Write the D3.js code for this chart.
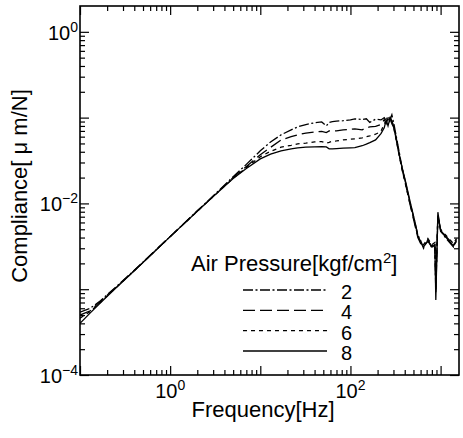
<!DOCTYPE html>
<html>
<head>
<meta charset="utf-8">
<script src="https://cdn.jsdelivr.net/npm/d3@7"></script>
<style>
	body { margin: 0; background: #fff; }
	svg text { font-family: "Liberation Sans", Arial, Helvetica, sans-serif; fill: #000; }
</style>
</head>
<body>
<div id="chart"></div>
<script>
'use strict';

// frequency points [Hz], shared by all four series
var freq = [0.1, 0.13, 0.17, 0.25, 0.4, 0.7, 1, 2, 3, 5, 7, 10, 13, 17, 22, 26, 32,
	40, 48, 54, 58, 63, 70, 83, 100, 112, 135, 150, 164, 190, 218, 237, 249, 261, 275,
	288, 303, 318, 341, 368, 412, 457, 519, 559, 601, 647, 722, 800, 864, 885, 933,
	1000, 1110, 1260, 1390, 1500];

// compliance [um/N] for each air pressure [kgf/cm2]
var comp2 = [5.4e-4, 6.0e-4, 7.4e-4, 1.06e-3, 1.66e-3, 2.89e-3, 4.1e-3, 8.2e-3, 0.0122,
	0.0205, 0.0285, 0.041, 0.052, 0.063, 0.072, 0.078, 0.083, 0.087, 0.089, 0.080, 0.088,
	0.090, 0.091, 0.092, 0.094, 0.0967, 0.095, 0.097, 0.088, 0.096, 0.094, 0.100, 0.092,
	0.104, 0.096, 0.108, 0.085, 0.065, 0.044, 0.0285, 0.0168, 0.0103, 0.0060, 0.0043,
	0.0037, 0.0030, 0.0038, 0.0030, 0.0034, 0.0009, 0.0072, 0.0049, 0.0041, 0.0035,
	0.0031, 0.0038];
var comp4 = [5.0e-4, 5.6e-4, 7.3e-4, 1.05e-3, 1.65e-3, 2.88e-3, 4.1e-3, 8.15e-3, 0.0121,
	0.020, 0.027, 0.037, 0.045, 0.055, 0.060, 0.063, 0.066, 0.068, 0.069, 0.067, 0.070,
	0.0705, 0.070, 0.072, 0.073, 0.074, 0.072, 0.076, 0.078, 0.079, 0.083, 0.095, 0.085,
	0.098, 0.105, 0.090, 0.078, 0.062, 0.042, 0.027, 0.0162, 0.0098, 0.0056, 0.0040,
	0.0034, 0.0032, 0.0036, 0.0032, 0.0034, 0.0010, 0.0075, 0.0048, 0.0043, 0.0037,
	0.0033, 0.0036];
var comp6 = [4.6e-4, 5.5e-4, 7.1e-4, 1.04e-3, 1.64e-3, 2.87e-3, 4.1e-3, 8.1e-3, 0.0120,
	0.0197, 0.0262, 0.035, 0.0405, 0.0452, 0.0475, 0.0494, 0.0505, 0.0521, 0.0525, 0.0505,
	0.0515, 0.053, 0.0535, 0.055, 0.056, 0.0565, 0.058, 0.060, 0.0612, 0.064, 0.069, 0.085,
	0.090, 0.100, 0.088, 0.094, 0.075, 0.058, 0.041, 0.0265, 0.0160, 0.0100, 0.0058,
	0.0041, 0.0036, 0.0033, 0.0039, 0.0033, 0.0035, 0.0012, 0.0070, 0.0050, 0.0044,
	0.0038, 0.0034, 0.0039];
var comp8 = [4.0e-4, 5.3e-4, 7.0e-4, 1.03e-3, 1.64e-3, 2.87e-3, 4.1e-3, 8.1e-3, 0.0120,
	0.0195, 0.0255, 0.033, 0.0375, 0.041, 0.0432, 0.0444, 0.0452, 0.0456, 0.0458, 0.0455,
	0.0432, 0.0433, 0.0436, 0.044, 0.0443, 0.0446, 0.047, 0.049, 0.051, 0.055, 0.065,
	0.076, 0.094, 0.080, 0.099, 0.085, 0.076, 0.0597, 0.040, 0.0281, 0.0173, 0.0107,
	0.0061, 0.0042, 0.0035, 0.0031, 0.0037, 0.0031, 0.0033, 0.00075, 0.0079, 0.0047,
	0.0042, 0.0036, 0.0032, 0.0037];

var pressures = ['2', '4', '6', '8'];
var seriesValues = [comp2, comp4, comp6, comp8];

// axis ticks and labels
var xMajor = [0.1, 1, 10, 100, 1000];
var yMajor = [1e-4, 1e-3, 1e-2, 1e-1, 1];
var xLabelExps = [0, 2];
var yLabelExps = [0, -2, -4];

var width = 463, height = 438;
var plotLeft = 80, plotRight = 459, plotTop = 6, plotBottom = 375;

var svg = d3.select('#chart').append('svg')
	.attr('width', width)
	.attr('height', height);

var xScale = d3.scaleLog().domain([0.1, 1600]).range([plotLeft, plotRight]);
var yScale = d3.scaleLog().domain([1e-4, 2]).range([plotBottom, plotTop]);

// minor ticks 2..9 inside each decade
var minorOf = function(majors, lo, hi) {
	var out = [];
	majors.forEach(function(m) {
		for (var k = 2; k <= 9; k++) {
			var v = m * k;
			if (v > lo && v < hi) out.push(v);
		}
	});
	return out;
};
var xMinor = minorOf(xMajor, 0.1, 1600);
var yMinor = minorOf(yMajor, 1e-4, 2);

var drawAxis = function(axis, values, size, transform) {
	var g = svg.append('g')
		.attr('transform', transform)
		.call(axis.tickValues(values).tickSizeInner(size).tickSizeOuter(0).tickFormat(''));
	g.select('.domain').remove();
	g.selectAll('line').attr('stroke', '#000').attr('stroke-width', 1.2);
};

// ticks on all four sides, pointing inwards
drawAxis(d3.axisBottom(xScale), xMajor, -9, 'translate(0,' + plotBottom + ')');
drawAxis(d3.axisBottom(xScale), xMinor, -5, 'translate(0,' + plotBottom + ')');
drawAxis(d3.axisTop(xScale), xMajor, -9, 'translate(0,' + plotTop + ')');
drawAxis(d3.axisTop(xScale), xMinor, -5, 'translate(0,' + plotTop + ')');
drawAxis(d3.axisLeft(yScale), yMajor, -9, 'translate(' + plotLeft + ',0)');
drawAxis(d3.axisLeft(yScale), yMinor, -5, 'translate(' + plotLeft + ',0)');
drawAxis(d3.axisRight(yScale), yMajor, -9, 'translate(' + plotRight + ',0)');
drawAxis(d3.axisRight(yScale), yMinor, -5, 'translate(' + plotRight + ',0)');

// frame
svg.append('rect')
	.attr('x', plotLeft).attr('y', plotTop)
	.attr('width', plotRight - plotLeft).attr('height', plotBottom - plotTop)
	.attr('fill', 'none').attr('stroke', '#000').attr('stroke-width', 1.6);

// tick labels with superscript exponents
var powerLabel = function(t, e) {
	t.append('tspan').text('10');
	t.append('tspan').attr('dy', -8).attr('font-size', 14).text(e < 0 ? '\u2212' + (-e) : e);
};
xLabelExps.forEach(function(e) {
	var t = svg.append('text')
		.attr('x', xScale(Math.pow(10, e)))
		.attr('y', 398)
		.attr('text-anchor', 'middle')
		.attr('font-size', 20);
	powerLabel(t, e);
});
yLabelExps.forEach(function(e) {
	var t = svg.append('text')
		.attr('x', 78)
		.attr('y', yScale(Math.pow(10, e)) + 8)
		.attr('text-anchor', 'end')
		.attr('font-size', 20);
	powerLabel(t, e);
});

// axis titles
svg.append('text')
	.attr('x', 263).attr('y', 417)
	.attr('text-anchor', 'middle')
	.attr('font-size', 22)
	.text('Frequency[Hz]');
svg.append('text')
	.attr('transform', 'translate(27,186) rotate(-90)')
	.attr('text-anchor', 'middle')
	.attr('font-size', 22)
	.text('Compliance[ \u03bc m/N]');

// curves
var dashes = ['10,2.5,2,2.5', '12,5', '4,4', null];

svg.append('clipPath').attr('id', 'plot-clip')
	.append('rect')
	.attr('x', plotLeft).attr('y', plotTop)
	.attr('width', plotRight - plotLeft).attr('height', plotBottom - plotTop);

var line = d3.line()
	.x(function(d) { return xScale(d[0]); })
	.y(function(d) { return yScale(d[1]); });

svg.append('g').attr('clip-path', 'url(#plot-clip)')
	.selectAll('path').data(seriesValues)
	.enter()
	.append('path')
	.attr('d', function(vals) { return line(freq.map(function(f, i) { return [f, vals[i]]; })); })
	.attr('fill', 'none')
	.attr('stroke', '#000')
	.attr('stroke-width', 1.3)
	.attr('stroke-dasharray', function(d, i) { return dashes[i]; });

// legend
var title = svg.append('text')
	.attr('x', 191).attr('y', 271)
	.attr('font-size', 22);
title.append('tspan').text('Air Pressure[kgf/cm');
title.append('tspan').attr('dy', -8).attr('font-size', 15).text('2');
title.append('tspan').attr('dy', 8).text(']');

var rowY = d3.scaleLinear().domain([0, 3]).range([290, 351]);
var legend = svg.append('g').selectAll('g').data(pressures)
	.enter()
	.append('g');
legend.append('line')
	.attr('x1', 243).attr('x2', 327)
	.attr('y1', function(d, i) { return rowY(i); })
	.attr('y2', function(d, i) { return rowY(i); })
	.attr('stroke', '#000')
	.attr('stroke-width', 1.3)
	.attr('stroke-dasharray', function(d, i) { return dashes[i]; });
legend.append('text')
	.attr('x', 341)
	.attr('y', function(d, i) { return rowY(i) + 9; })
	.attr('font-size', 20)
	.text(function(d) { return d; });
</script>
</body>
</html>
